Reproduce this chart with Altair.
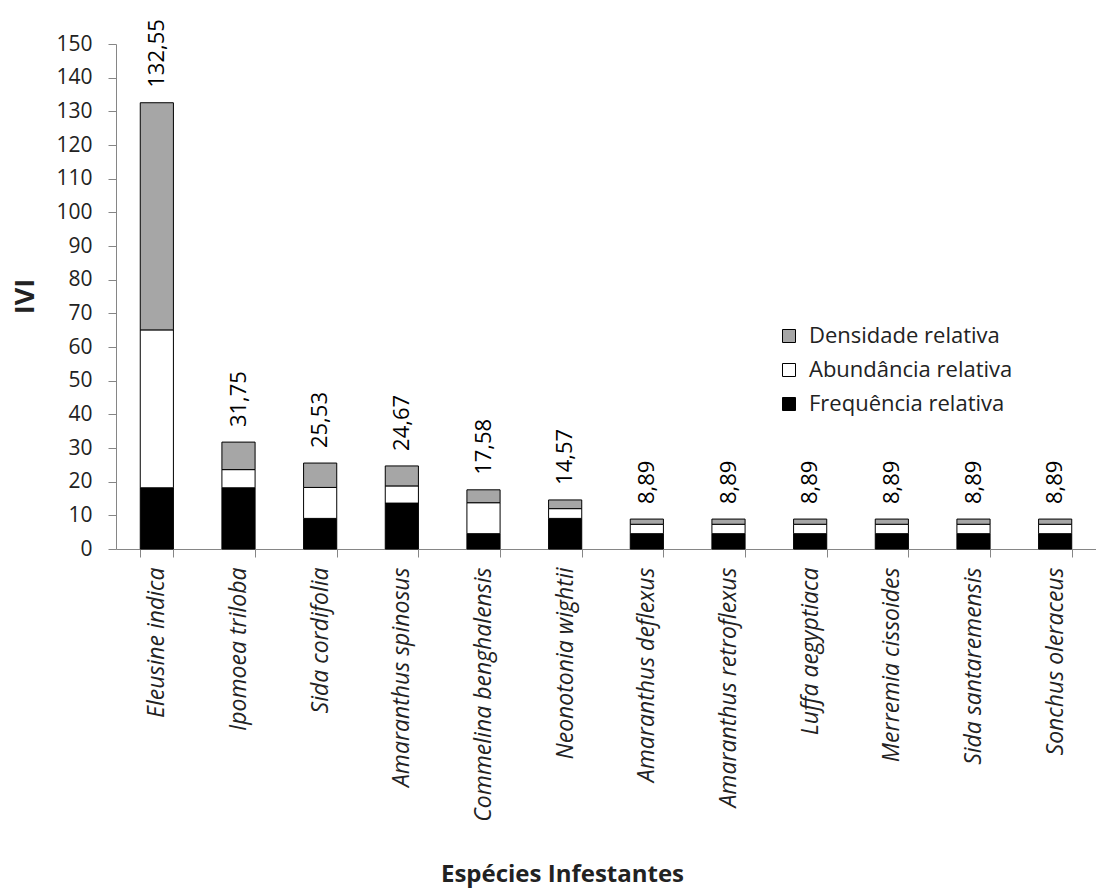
import altair as alt
import pandas as pd

# Species (x-axis order)
species = [
    "Eleusine indica", "Ipomoea triloba", "Sida cordifolia", "Amaranthus spinosus",
    "Commelina benghalensis", "Neonotonia wightii", "Amaranthus deflexus",
    "Amaranthus retroflexus", "Luffa aegyptiaca", "Merremia cissoides",
    "Sida santaremensis", "Sonchus oleraceus",
]

# Components of the importance value index (IVI), per species
frequencia = [18.18, 18.18, 9.09, 13.64, 4.55, 9.09, 4.55, 4.55, 4.55, 4.55, 4.55, 4.55]
abundancia = [46.90, 5.40, 9.20, 5.10, 9.20, 2.90, 2.80, 2.80, 2.80, 2.80, 2.80, 2.80]
densidade = [67.47, 8.17, 7.24, 5.93, 3.83, 2.58, 1.54, 1.54, 1.54, 1.54, 1.54, 1.54]

# y-axis ticks
y_ticks = [0, 10, 20, 30, 40, 50, 60, 70, 80, 90, 100, 110, 120, 130, 140, 150]

series = ["Densidade relativa", "Abundância relativa", "Frequência relativa"]
series_colors = ["#a6a6a6", "#ffffff", "#000000"]
# stacking position: 0 = bottom
stack_pos = {"Frequência relativa": 0, "Abundância relativa": 1, "Densidade relativa": 2}

rows = []
for i, sp in enumerate(species):
    for name, vals in (("Frequência relativa", frequencia),
                       ("Abundância relativa", abundancia),
                       ("Densidade relativa", densidade)):
        rows.append({"species": sp, "componente": name, "valor": vals[i],
                     "pos": stack_pos[name]})
df = pd.DataFrame(rows)

FONT = "Open Sans"
TEXT = "#222222"
AXIS = "#868686"

x_axis = alt.Axis(
    title="Espécies Infestantes", titleFont=FONT, titleFontSize=24,
    titleFontWeight="bold", titleColor=TEXT, titleX=446, titleY=332,
    titleAlign="center", titleBaseline="alphabetic",
    labelAngle=-90, labelFont=FONT, labelFontSize=23, labelFontStyle="italic",
    labelColor=TEXT, labelPadding=10, labelLimit=400,
    tickBand="extent", tickSize=8, tickColor=AXIS, domainColor=AXIS,
    grid=False,
)
y_axis = alt.Axis(
    title="IVI", titleFont=FONT, titleFontSize=27, titleFontWeight="bold",
    titleColor=TEXT, titleX=-91, titleY=252, titleAlign="center",
    titleBaseline="middle",
    values=y_ticks, labelOverlap=False,
    labelFont=FONT, labelFontSize=21,
    labelColor=TEXT, labelPadding=16, tickSize=8, tickColor=AXIS,
    domainColor=AXIS, grid=False,
)
x_scale = alt.Scale(paddingInner=0.594, paddingOuter=0.297)
y_scale = alt.Scale(domain=[0, 150], nice=False)

bars = alt.Chart(df).mark_bar(stroke="#000000", strokeWidth=1).encode(
    x=alt.X("species:N", sort=species, scale=x_scale, axis=x_axis),
    y=alt.Y("valor:Q", stack="zero", scale=y_scale, axis=y_axis),
    color=alt.Color(
        "componente:N",
        scale=alt.Scale(domain=series, range=series_colors),
        legend=alt.Legend(
            title=None, orient="none", legendX=662, legendY=281,
            symbolType="square", symbolSize=169, symbolStrokeColor="#000000",
            symbolStrokeWidth=1, symbolOpacity=1, labelFont=FONT, labelFontSize=22,
            labelColor=TEXT, labelOffset=9, rowPadding=12, labelLimit=400,
        ),
    ),
    order=alt.Order("pos:Q", sort="ascending"),
)

labels = alt.Chart(df).transform_aggregate(
    total="sum(valor)", groupby=["species"]
).transform_calculate(
    rotulo="replace(format(datum.total, '.2f'), '.', ',')"
).mark_text(
    angle=270, align="left", baseline="middle", dx=15,
    font=FONT, fontSize=22, color="#000000",
).encode(
    x=alt.X("species:N", sort=species, scale=x_scale, axis=x_axis),
    y=alt.Y("total:Q", scale=y_scale, axis=y_axis),
    text="rotulo:N",
)

chart = alt.layer(bars, labels).properties(
    width=980, height=505,
    autosize=alt.AutoSizeParams(type="none"),
    padding={"left": 116, "top": 44, "right": 0, "bottom": 340},
    background="#ffffff",
).configure_view(stroke=None)

chart.save("out.html", embed_options={"renderer": "svg", "actions": False})
